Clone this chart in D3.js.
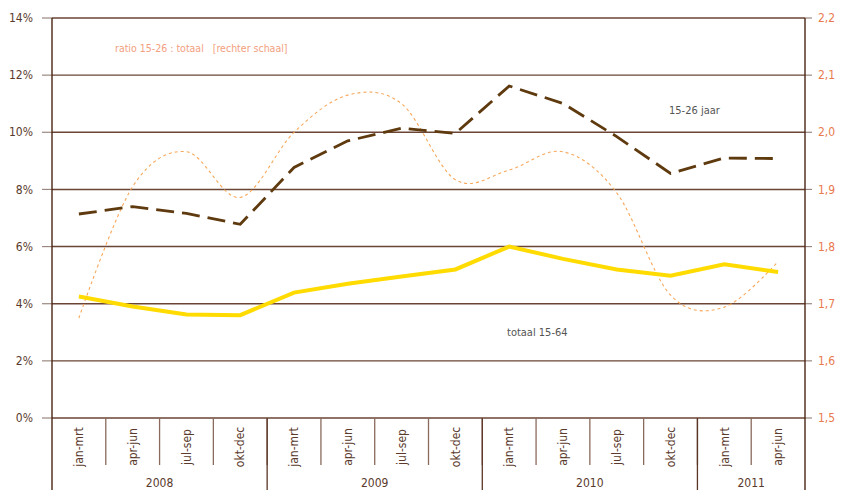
<!DOCTYPE html>
<html>
<head>
<meta charset="utf-8">
<script src="https://cdn.jsdelivr.net/npm/d3@7"></script>
<style>
  body { margin: 0; background: #fff; }
  text { font-family: "DejaVu Sans Condensed", "Liberation Sans Narrow", sans-serif; }
</style>
</head>
<body>
<div id="chart"></div>
<script>
// data
const quarters = ["jan-mrt", "apr-jun", "jul-sep", "okt-dec",
                  "jan-mrt", "apr-jun", "jul-sep", "okt-dec",
                  "jan-mrt", "apr-jun", "jul-sep", "okt-dec",
                  "jan-mrt", "apr-jun"];
const years = [
  { year: "2008", from: 0, to: 3 },
  { year: "2009", from: 4, to: 7 },
  { year: "2010", from: 8, to: 11 },
  { year: "2011", from: 12, to: 13 }
];
const totaal = [4.25, 3.9, 3.62, 3.6, 4.39, 4.7, 4.95, 5.2, 6.0, 5.57, 5.2, 4.98, 5.38, 5.11];
const jeugd = [7.14, 7.4, 7.16, 6.78, 8.77, 9.7, 10.14, 9.96, 11.62, 11.01, 9.85, 8.56, 9.1, 9.08];
const ratio = [1.675, 1.905, 1.966, 1.886, 2.0, 2.065, 2.05, 1.917, 1.934, 1.966, 1.894, 1.715, 1.694, 1.774];
const leftTicks = [0, 2, 4, 6, 8, 10, 12, 14];
const rightTicks = [1.5, 1.6, 1.7, 1.8, 1.9, 2.0, 2.1, 2.2];

const W = 845, H = 490;
const plot = { left: 52, right: 805, top: 18, bottom: 418 };

const svg = d3.select("#chart").append("svg")
  .attr("width", W)
  .attr("height", H);

const x = d3.scaleBand()
  .domain(d3.range(quarters.length))
  .range([plot.left, plot.right]);

const yL = d3.scaleLinear().domain([0, 14]).range([plot.bottom, plot.top]);
const yR = d3.scaleLinear().domain([1.5, 2.2]).range([plot.bottom, plot.top]);

const cx = i => x(i) + x.bandwidth() / 2;

// gridlines
svg.append("g")
  .selectAll("line")
  .data(leftTicks)
  .join("line")
  .attr("x1", plot.left).attr("x2", plot.right)
  .attr("y1", d => yL(d)).attr("y2", d => yL(d))
  .attr("stroke", "#6a4434")
  .attr("stroke-width", 1.4);

// left axis ticks + labels
svg.append("g")
  .selectAll("line")
  .data(leftTicks)
  .join("line")
  .attr("x1", plot.left - 10).attr("x2", plot.left)
  .attr("y1", d => yL(d)).attr("y2", d => yL(d))
  .attr("stroke", "#9a8880")
  .attr("stroke-width", 1.2);

svg.append("g")
  .selectAll("text")
  .data(leftTicks)
  .join("text")
  .attr("x", 33)
  .attr("y", d => yL(d))
  .attr("dy", "0.35em")
  .attr("text-anchor", "end")
  .attr("font-size", "12px")
  .attr("fill", "#5a3a2c")
  .text(d => d + "%");

// right axis ticks + labels
svg.append("g")
  .selectAll("line")
  .data(rightTicks)
  .join("line")
  .attr("x1", plot.right).attr("x2", plot.right + 7)
  .attr("y1", d => yR(d)).attr("y2", d => yR(d))
  .attr("stroke", "#9a8880")
  .attr("stroke-width", 1.2);

svg.append("g")
  .selectAll("text")
  .data(rightTicks)
  .join("text")
  .attr("x", 818)
  .attr("y", d => yR(d))
  .attr("dy", "0.35em")
  .attr("font-size", "12px")
  .attr("fill", "#e87a4e")
  .text(d => d3.format(".1f")(d).replace(".", ","));

// vertical axis lines
[plot.left, plot.right].forEach(px => {
  svg.append("line")
    .attr("x1", px).attr("x2", px)
    .attr("y1", plot.top).attr("y2", H)
    .attr("stroke", "#4a2414")
    .attr("stroke-width", 1.4);
});

// quarter ticks below the plot
svg.append("g")
  .selectAll("line")
  .data(d3.range(1, quarters.length))
  .join("line")
  .attr("x1", i => x(i)).attr("x2", i => x(i))
  .attr("y1", plot.bottom).attr("y2", 465)
  .attr("stroke", "#8a6a5c")
  .attr("stroke-width", 1.3);

// year separators
svg.append("g")
  .selectAll("line")
  .data(years.slice(1))
  .join("line")
  .attr("x1", d => x(d.from)).attr("x2", d => x(d.from))
  .attr("y1", plot.bottom).attr("y2", H)
  .attr("stroke", "#5a3424")
  .attr("stroke-width", 1.3);

// quarter labels
svg.append("g")
  .selectAll("text")
  .data(quarters)
  .join("text")
  .attr("transform", (d, i) => "translate(" + cx(i) + ",447) rotate(-90)")
  .attr("text-anchor", "middle")
  .attr("dy", "0.35em")
  .attr("font-size", "12px")
  .attr("fill", "#5a3a2c")
  .text(d => d);

// year labels
svg.append("g")
  .selectAll("text")
  .data(years)
  .join("text")
  .attr("x", d => (x(d.from) + x(d.to) + x.bandwidth()) / 2)
  .attr("y", 487)
  .attr("text-anchor", "middle")
  .attr("font-size", "12px")
  .attr("fill", "#5a3a2c")
  .text(d => d.year);

// ratio line (right scale), smooth thin dashed
svg.append("path")
  .datum(ratio)
  .attr("fill", "none")
  .attr("stroke", "#f7a85a")
  .attr("stroke-width", 1.1)
  .attr("stroke-dasharray", "3,3")
  .attr("d", d3.line()
    .x((d, i) => cx(i))
    .y(d => yR(d))
    .curve(d3.curveCardinal.tension(0)));

// 15-26 jaar (dashed)
svg.append("path")
  .datum(jeugd)
  .attr("fill", "none")
  .attr("stroke", "#5e3a0e")
  .attr("stroke-width", 2.8)
  .attr("stroke-dasharray", "18,8")
  .attr("d", d3.line()
    .x((d, i) => cx(i))
    .y(d => yL(d)));

// totaal 15-64 (yellow)
svg.append("path")
  .datum(totaal)
  .attr("fill", "none")
  .attr("stroke", "#ffdb00")
  .attr("stroke-width", 4)
  .attr("d", d3.line()
    .x((d, i) => cx(i))
    .y(d => yL(d)));

// annotations
svg.append("text")
  .attr("x", 115).attr("y", 52)
  .attr("font-size", "10.5px")
  .attr("fill", "#f2a080")
  .attr("xml:space", "preserve")
  .text("ratio 15-26 : totaal   [rechter schaal]");

svg.append("text")
  .attr("x", 669).attr("y", 114)
  .attr("font-size", "11px")
  .attr("fill", "#555")
  .text("15-26 jaar");

svg.append("text")
  .attr("x", 507).attr("y", 336)
  .attr("font-size", "11px")
  .attr("fill", "#555")
  .text("totaal 15-64");
</script>
</body>
</html>
